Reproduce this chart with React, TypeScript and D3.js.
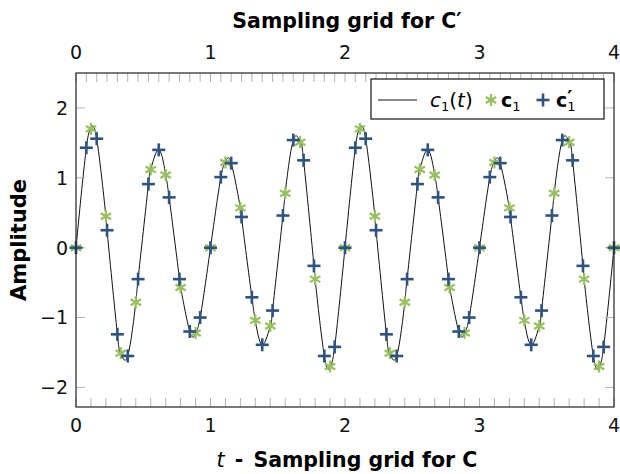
import React, { useEffect, useRef } from "react";
import * as d3 from "d3";

// samples of C on the 1/9 grid (bottom axis)
const gridC = d3.range(0, 37).map(k => k / 9);
const valuesC = [
  0, 1.70, 0.45, -1.51, -0.78, 1.12, 1.04, -0.57, -1.22,
  0, 1.22, 0.57, -1.04, -1.12, 0.78, 1.51, -0.45, -1.70,
  0, 1.70, 0.45, -1.51, -0.78, 1.12, 1.04, -0.57, -1.22,
  0, 1.22, 0.57, -1.04, -1.12, 0.78, 1.51, -0.45, -1.70,
  0
];

// samples of C' on the 1/13 grid (top axis)
const gridCp = d3.range(0, 53).map(k => k / 13);
const valuesCp = [
  0, 1.43, 1.56, 0.25, -1.24, -1.55, -0.45, 0.91, 1.40, 0.72, -0.45, -1.20, -1.00,
  0, 1.01, 1.21, 0.44, -0.71, -1.39, -0.90, 0.46, 1.54, 1.25, -0.26, -1.55, -1.42,
  0, 1.43, 1.56, 0.25, -1.24, -1.55, -0.45, 0.91, 1.40, 0.72, -0.45, -1.20, -1.00,
  0, 1.01, 1.21, 0.44, -0.71, -1.39, -0.90, 0.46, 1.54, 1.25, -0.26, -1.55, -1.42,
  0
];

const xTicks = [0, 1, 2, 3, 4];
const yTicks = [-2, -1, 0, 1, 2];

const GREEN = "#97c05e";
const BLUE = "#2d5283";
const SANS = "DejaVu Sans, sans-serif";

function App() {
  const ref = useRef<SVGSVGElement>(null);

  useEffect(() => {
    const svg = d3.select(ref.current);
    svg.selectAll("*").remove();

    const x = d3.scaleLinear().domain([0, 4]).range([76, 614]);
    const y = d3.scaleLinear().domain([-2.28, 2.5]).range([407, 73]);
    const [x0, x1] = x.range();
    const [y0, y1] = y.range();

    const g = svg.append("g");

    // curve c1(t) through all samples of both grids
    const pts = new Map<string, [number, number]>();
    gridC.forEach((t, i) => pts.set(t.toFixed(5), [t, valuesC[i]]));
    gridCp.forEach((t, i) => pts.set(t.toFixed(5), [t, valuesCp[i]]));
    const merged = Array.from(pts.values()).sort((a, b) => a[0] - b[0]);

    const line = d3.line<[number, number]>()
      .x(d => x(d[0]))
      .y(d => y(d[1]))
      .curve(d3.curveNatural);

    g.append("path")
      .datum(merged)
      .attr("d", line)
      .attr("fill", "none")
      .attr("stroke", "#111")
      .attr("stroke-width", 1);

    // ticks (inside the frame)
    const tickColor = "#b3b3b3";
    g.append("g").selectAll("line").data(gridC).enter().append("line")
      .attr("x1", d => x(d)).attr("x2", d => x(d))
      .attr("y1", y0).attr("y2", y0 - 9)
      .attr("stroke", tickColor).attr("stroke-width", 1);
    g.append("g").selectAll("line").data(gridCp).enter().append("line")
      .attr("x1", d => x(d)).attr("x2", d => x(d))
      .attr("y1", y1).attr("y2", y1 + 9)
      .attr("stroke", tickColor).attr("stroke-width", 1);
    g.append("g").selectAll("line").data(yTicks).enter().append("line")
      .attr("x1", x0).attr("x2", x0 + 9)
      .attr("y1", d => y(d)).attr("y2", d => y(d))
      .attr("stroke", tickColor).attr("stroke-width", 1);
    g.append("g").selectAll("line").data(yTicks).enter().append("line")
      .attr("x1", x1).attr("x2", x1 - 9)
      .attr("y1", d => y(d)).attr("y2", d => y(d))
      .attr("stroke", tickColor).attr("stroke-width", 1);

    // C samples: asterisks
    const star = (sel: any, r: number) => {
      [90, 30, 150].forEach(a => {
        const rad = (a * Math.PI) / 180;
        sel.append("line")
          .attr("x1", -r * Math.cos(rad)).attr("y1", -r * Math.sin(rad))
          .attr("x2", r * Math.cos(rad)).attr("y2", r * Math.sin(rad));
      });
    };
    const greens = g.append("g").attr("stroke", GREEN).attr("stroke-width", 2.2)
      .selectAll("g").data(gridC).enter().append("g")
      .attr("transform", (d, i) => `translate(${x(d)},${y(valuesC[i])})`);
    greens.each(function () { star(d3.select(this), 6); });

    // C' samples: plus
    const plus = (sel: any, r: number) => {
      sel.append("line").attr("x1", -r).attr("x2", r).attr("y1", 0).attr("y2", 0);
      sel.append("line").attr("x1", 0).attr("x2", 0).attr("y1", -r).attr("y2", r);
    };
    const blues = g.append("g").attr("stroke", BLUE).attr("stroke-width", 2.6)
      .selectAll("g").data(gridCp).enter().append("g")
      .attr("transform", (d, i) => `translate(${x(d)},${y(valuesCp[i])})`);
    blues.each(function () { plus(d3.select(this), 6.5); });

    // frame
    g.append("rect")
      .attr("x", x0).attr("y", y1)
      .attr("width", x1 - x0).attr("height", y0 - y1)
      .attr("fill", "none").attr("stroke", "#222").attr("stroke-width", 1.2);

    // tick labels
    const labels = g.append("g").attr("font-family", SANS).attr("font-size", 19).attr("fill", "#111");
    xTicks.forEach(t => {
      labels.append("text").attr("x", x(t)).attr("y", y0 + 25)
        .attr("text-anchor", "middle").text(String(t));
      labels.append("text").attr("x", x(t)).attr("y", y1 - 14)
        .attr("text-anchor", "middle").text(String(t));
    });
    yTicks.forEach(v => {
      labels.append("text").attr("x", x0 - 8).attr("y", y(v)).attr("dy", "0.36em")
        .attr("text-anchor", "end").text(v < 0 ? `\u2212${-v}` : String(v));
    });

    // titles
    g.append("text")
      .attr("x", 347).attr("y", 28)
      .attr("text-anchor", "middle")
      .attr("font-family", SANS).attr("font-size", 20.5).attr("font-weight", "bold")
      .text("Sampling grid for C\u2032");

    const xl = g.append("text")
      .attr("x", 347).attr("y", 467)
      .attr("text-anchor", "middle")
      .attr("font-family", SANS).attr("font-size", 20.5);
    xl.append("tspan").attr("font-style", "italic").text("t");
    xl.append("tspan").attr("font-weight", "bold").attr("dx", 3).text(" - ");
    xl.append("tspan").attr("font-weight", "bold").attr("dx", 3).text("Sampling grid for C");

    g.append("text")
      .attr("transform", `translate(26,${(y0 + y1) / 2}) rotate(-90)`)
      .attr("text-anchor", "middle")
      .attr("font-family", SANS).attr("font-size", 21).attr("font-weight", "bold")
      .text("Amplitude");

    // legend
    const lg = g.append("g");
    lg.append("rect")
      .attr("x", 371).attr("y", 79).attr("width", 233).attr("height", 40)
      .attr("fill", "white").attr("stroke", "#111").attr("stroke-width", 1.2);
    const ly = 100;
    lg.append("line").attr("x1", 378).attr("x2", 417).attr("y1", ly).attr("y2", ly)
      .attr("stroke", "#111").attr("stroke-width", 1);

    const t1 = lg.append("text").attr("x", 430).attr("y", ly + 7)
      .attr("font-family", SANS).attr("font-size", 20);
    t1.append("tspan").attr("font-style", "italic").text("c");
    t1.append("tspan").attr("font-size", 13).attr("dy", 4).text("1");
    t1.append("tspan").attr("dy", -4).text("(");
    t1.append("tspan").attr("font-style", "italic").text("t");
    t1.append("tspan").text(")");

    const ms = lg.append("g").attr("stroke", GREEN).attr("stroke-width", 2.2)
      .attr("transform", `translate(491,${ly})`);
    star(ms, 6);

    const t2 = lg.append("text").attr("x", 501).attr("y", ly + 7)
      .attr("font-family", SANS).attr("font-size", 19);
    t2.append("tspan").attr("font-weight", "bold").text("c");
    t2.append("tspan").attr("font-size", 13).attr("dy", 4).text("1");

    const mp = lg.append("g").attr("stroke", BLUE).attr("stroke-width", 2.6)
      .attr("transform", `translate(543,${ly})`);
    plus(mp, 6.5);

    const t3 = lg.append("text").attr("x", 556).attr("y", ly + 7)
      .attr("font-family", SANS).attr("font-size", 19);
    t3.append("tspan").attr("font-weight", "bold").text("c");
    t3.append("tspan").attr("font-weight", "bold").attr("dy", -3).text("\u2032");
    t3.append("tspan").attr("font-size", 13).attr("dx", -5).attr("dy", 7).text("1");
  }, []);

  return (
    <svg ref={ref} width={620} height={474}
      style={{ position: "absolute", left: 0, top: 0, background: "white" }} />
  );
}

export default App;
